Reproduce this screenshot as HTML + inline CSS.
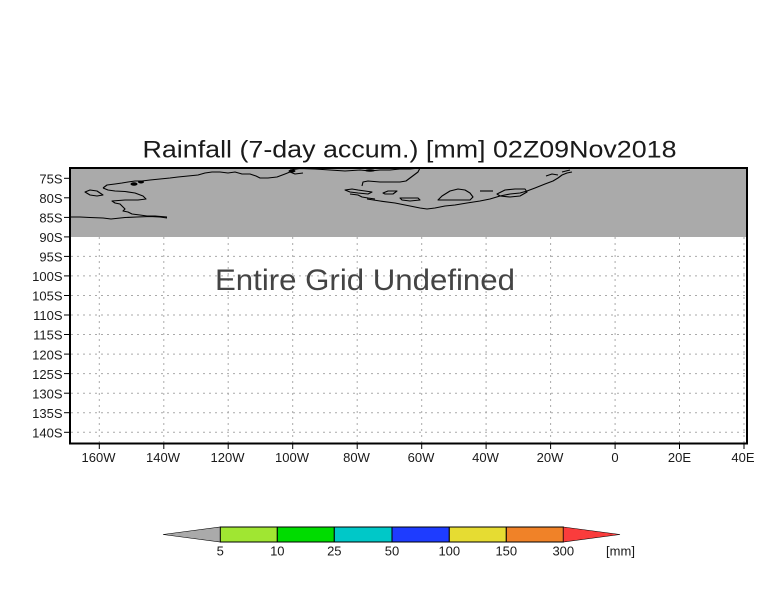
<!DOCTYPE html>
<html>
<head>
<meta charset="utf-8">
<style>
html,body{margin:0;padding:0;background:#fff;}
svg{display:block;}
text{font-family:"Liberation Sans",sans-serif;}
</style>
</head>
<body>
<svg width="784" height="612" viewBox="0 0 784 612" xmlns="http://www.w3.org/2000/svg">
<rect x="0" y="0" width="784" height="612" fill="#fff"/>

<!-- Title -->
<text x="142.5" y="157.7" font-size="24" textLength="534" lengthAdjust="spacingAndGlyphs" fill="#1a1a1a">Rainfall (7-day accum.) [mm] 02Z09Nov2018</text>

<!-- gray undefined (Antarctic) region -->
<rect x="70" y="168" width="677" height="69" fill="#aaaaaa"/>

<!-- grid lines -->
<g stroke="#aaaaaa" stroke-width="1" stroke-dasharray="2,4" fill="none">
  <line x1="71" y1="256.4" x2="746" y2="256.4"/>
  <line x1="71" y1="275.9" x2="746" y2="275.9"/>
  <line x1="71" y1="295.5" x2="746" y2="295.5"/>
  <line x1="71" y1="315.0" x2="746" y2="315.0"/>
  <line x1="71" y1="334.5" x2="746" y2="334.5"/>
  <line x1="71" y1="354.1" x2="746" y2="354.1"/>
  <line x1="71" y1="373.6" x2="746" y2="373.6"/>
  <line x1="71" y1="393.2" x2="746" y2="393.2"/>
  <line x1="71" y1="412.7" x2="746" y2="412.7"/>
  <line x1="71" y1="432.3" x2="746" y2="432.3"/>
  <line x1="99.3" y1="237" x2="99.3" y2="443"/>
  <line x1="163.8" y1="237" x2="163.8" y2="443"/>
  <line x1="228.2" y1="237" x2="228.2" y2="443"/>
  <line x1="292.7" y1="237" x2="292.7" y2="443"/>
  <line x1="357.2" y1="237" x2="357.2" y2="443"/>
  <line x1="421.7" y1="237" x2="421.7" y2="443"/>
  <line x1="486.1" y1="237" x2="486.1" y2="443"/>
  <line x1="550.6" y1="237" x2="550.6" y2="443"/>
  <line x1="615.1" y1="237" x2="615.1" y2="443"/>
  <line x1="679.5" y1="237" x2="679.5" y2="443"/>
  <line x1="744.0" y1="237" x2="744.0" y2="443"/>
</g>

<!-- coastlines -->
<g stroke="#000" stroke-width="1.1" fill="none" stroke-linejoin="round">
  <path d="M70,217 L80,217 L90,217.5 L103,218 L111,219 L125,217.5 L137,217 L150,216.5 L160,217 L167,218"/>
  <path d="M103,188 L108,190 L115,191 L125,191.5 L135,193 L143,196 L146,199 L138,200 L125,200 L112,201 L115,203 L120,204 L123,207 L125,209 L123,211 L128,212 L132,214 L140,215 L147,216 L155,216 L167,217"/>
  <path d="M103,188 L107,185 L115,184 L122,183 L128,182 L135,181 L142,181 L150,180 L160,179 L170,178 L178,177 L188,176 L198,175 L205,173 L212,172 L220,172 L228,173 L235,172 L242,174 L250,174 L256,176 L260,178 L268,178 L277,177 L285,174 L290,172 L295,174 L303,173"/>
  <path d="M85,192 L90,190 L97,191 L100,193 L103,195 L97,196 L90,195 Z"/>
  <path d="M290,170 L300,168.5 L315,169 L330,170 L345,171 L360,170 L370,171 L380,170 L390,170 L400,169 L410,169 L420,168"/>
  <path d="M420,168 L418,172 L414,175 L410,178 L406,181 L400,182 L390,182 L380,182 L368,181 L363,182 L362,186"/>
  <path d="M345,190 L352,189 L358,190 L365,191 L372,192 L368,194 L358,193 L350,192 Z"/>
  <path d="M350,194 L358,195 L362,197 L368,198 L375,199"/>
  <path d="M367,199 L380,201 L395,203 L410,206 L420,208 L427,209 L435,208 L445,206 L455,205 L467,203 L480,201 L490,199 L500,196 L510,194 L520,193 L527,191 L535,188 L545,184 L553,181 L558,178 L562,175 L567,173 L572,172"/>
  <path d="M383,193 L388,191 L397,191 L393,194 L385,194 Z"/>
  <path d="M400,198 L410,198 L418,198 L420,200 L410,201 L402,200 Z"/>
  <path d="M438,200 L442,196 L450,191 L458,189 L465,190 L470,193 L473,197 L470,200 L460,200 L450,200 Z"/>
  <path d="M480,191 L493,191"/>
  <path d="M497,194 L505,190 L515,189 L525,189 L527,192 L520,196 L510,197 L500,196 Z"/>
  <path d="M546,176 L552,174 L558,175"/>
  <path d="M562,172 L570,170"/>
</g>
<g fill="#000">
  <ellipse cx="134" cy="184" rx="3.5" ry="1.8"/>
  <ellipse cx="141" cy="182" rx="3" ry="1.5"/>
  <ellipse cx="292" cy="171" rx="3.5" ry="1.5"/>
  <ellipse cx="370" cy="170.5" rx="5" ry="1.2"/>
</g>

<!-- frame -->
<rect x="70" y="168" width="677" height="275.5" fill="none" stroke="#000" stroke-width="2"/>

<!-- y ticks & labels -->
<g stroke="#000" stroke-width="1">
  <line x1="64" y1="178.3" x2="70" y2="178.3"/>
  <line x1="64" y1="197.8" x2="70" y2="197.8"/>
  <line x1="64" y1="217.4" x2="70" y2="217.4"/>
  <line x1="64" y1="236.9" x2="70" y2="236.9"/>
  <line x1="64" y1="256.4" x2="70" y2="256.4"/>
  <line x1="64" y1="275.9" x2="70" y2="275.9"/>
  <line x1="64" y1="295.5" x2="70" y2="295.5"/>
  <line x1="64" y1="315.0" x2="70" y2="315.0"/>
  <line x1="64" y1="334.5" x2="70" y2="334.5"/>
  <line x1="64" y1="354.1" x2="70" y2="354.1"/>
  <line x1="64" y1="373.6" x2="70" y2="373.6"/>
  <line x1="64" y1="393.2" x2="70" y2="393.2"/>
  <line x1="64" y1="412.7" x2="70" y2="412.7"/>
  <line x1="64" y1="432.3" x2="70" y2="432.3"/>
</g>
<g font-size="13" text-anchor="end" fill="#1a1a1a">
  <text x="62.5" y="183.5">75S</text>
  <text x="62.5" y="203.0">80S</text>
  <text x="62.5" y="222.6">85S</text>
  <text x="62.5" y="242.1">90S</text>
  <text x="62.5" y="261.6">95S</text>
  <text x="62.5" y="281.1">100S</text>
  <text x="62.5" y="300.7">105S</text>
  <text x="62.5" y="320.2">110S</text>
  <text x="62.5" y="339.7">115S</text>
  <text x="62.5" y="359.3">120S</text>
  <text x="62.5" y="378.8">125S</text>
  <text x="62.5" y="398.4">130S</text>
  <text x="62.5" y="417.9">135S</text>
  <text x="62.5" y="437.5">140S</text>
</g>

<!-- x ticks & labels -->
<g stroke="#000" stroke-width="1">
  <line x1="99.3" y1="444" x2="99.3" y2="449"/>
  <line x1="163.8" y1="444" x2="163.8" y2="449"/>
  <line x1="228.2" y1="444" x2="228.2" y2="449"/>
  <line x1="292.7" y1="444" x2="292.7" y2="449"/>
  <line x1="357.2" y1="444" x2="357.2" y2="449"/>
  <line x1="421.7" y1="444" x2="421.7" y2="449"/>
  <line x1="486.1" y1="444" x2="486.1" y2="449"/>
  <line x1="550.6" y1="444" x2="550.6" y2="449"/>
  <line x1="615.1" y1="444" x2="615.1" y2="449"/>
  <line x1="679.5" y1="444" x2="679.5" y2="449"/>
  <line x1="744.0" y1="444" x2="744.0" y2="449"/>
</g>
<g font-size="13" text-anchor="middle" fill="#1a1a1a">
  <text x="98.5" y="462">160W</text>
  <text x="163" y="462">140W</text>
  <text x="227.5" y="462">120W</text>
  <text x="292" y="462">100W</text>
  <text x="356.5" y="462">80W</text>
  <text x="421" y="462">60W</text>
  <text x="485.5" y="462">40W</text>
  <text x="550" y="462">20W</text>
  <text x="615" y="462">0</text>
  <text x="679.5" y="462">20E</text>
  <text x="743" y="462">40E</text>
</g>

<!-- Entire Grid Undefined -->
<text x="215" y="290" font-size="30" textLength="300" lengthAdjust="spacingAndGlyphs" fill="#444">Entire Grid Undefined</text>

<!-- colorbar -->
<g stroke="#000" stroke-width="1">
  <polygon points="163,534.5 220.3,527 220.3,542" fill="#aaaaaa" stroke-width="0.6"/>
  <rect x="220.3" y="527" width="57" height="15" fill="#a0e632"/>
  <rect x="277.3" y="527" width="57" height="15" fill="#00dc00"/>
  <rect x="334.3" y="527" width="57.7" height="15" fill="#00c8c8"/>
  <rect x="392" y="527" width="57.3" height="15" fill="#1e3cff"/>
  <rect x="449.3" y="527" width="57" height="15" fill="#e6dc32"/>
  <rect x="506.3" y="527" width="57" height="15" fill="#f08228"/>
  <polygon points="563.3,527 620,534.5 563.3,542" fill="#fa3c3c" stroke-width="0.6"/>
</g>
<g font-size="13" text-anchor="middle" fill="#1a1a1a">
  <text x="220.3" y="555.5">5</text>
  <text x="277.3" y="555.5">10</text>
  <text x="334.3" y="555.5">25</text>
  <text x="392" y="555.5">50</text>
  <text x="449.3" y="555.5">100</text>
  <text x="506.3" y="555.5">150</text>
  <text x="563.3" y="555.5">300</text>
  <text x="620.5" y="555.5">[mm]</text>
</g>
</svg>
</body>
</html>
